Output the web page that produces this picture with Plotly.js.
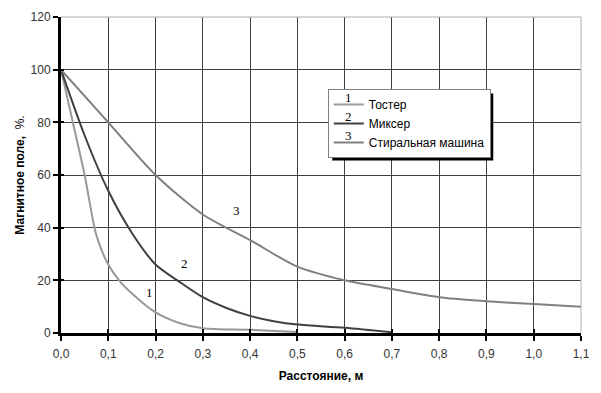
<!DOCTYPE html>
<html>
<head>
<meta charset="utf-8">
<script src="https://cdn.plot.ly/plotly-3.0.1.min.js"></script>
<style>html,body{margin:0;padding:0;background:#fff;}#chart{width:601px;height:393px;}</style>
</head>
<body>
<div id="chart"></div>
<script>
// Data
const seriesNames = ["Тостер", "Миксер", "Стиральная машина"];
const seriesNums = ["1", "2", "3"];

const toasterX = [0, 0.025, 0.05, 0.075, 0.1, 0.125, 0.15, 0.2, 0.25, 0.3, 0.4, 0.5];
const toasterY = [100, 80, 60, 37, 26, 19.5, 15, 7.8, 3.8, 1.8, 1.2, 0.4];

const mixerX = [0, 0.05, 0.1, 0.15, 0.2, 0.25, 0.3, 0.35, 0.4, 0.45, 0.5, 0.6, 0.7];
const mixerY = [100, 75, 54, 38, 26, 19.5, 13.6, 9.5, 6.5, 4.5, 3.2, 2, 0.3];

const washerX = [0, 0.1, 0.2, 0.3, 0.4, 0.5, 0.6, 0.7, 0.8, 0.9, 1.0, 1.1];
const washerY = [100, 80, 60, 45, 35.3, 25.2, 20, 16.7, 13.6, 12.1, 11, 10];

const xTickVals = [0, 0.1, 0.2, 0.3, 0.4, 0.5, 0.6, 0.7, 0.8, 0.9, 1.0, 1.1];
const yTickVals = [0, 20, 40, 60, 80, 100, 120];

const curveLabelX = [0.188, 0.262, 0.372];
const curveLabelY = [15.5, 26.5, 46.5];

const colors = ["#999999", "#404040", "#808080"];

const traces = [
  {x: toasterX, y: toasterY, name: seriesNames[0]},
  {x: mixerX, y: mixerY, name: seriesNames[1]},
  {x: washerX, y: washerY, name: seriesNames[2]}
].map((t, i) => Object.assign(t, {
  type: "scatter", mode: "lines",
  line: {color: colors[i], width: 2, shape: "spline", smoothing: 0.8},
  hoverinfo: "skip"
}));

// invisible trace to carry the overlay axes (inside ticks)
traces.push({x: [0], y: [0], xaxis: "x2", yaxis: "y2", mode: "markers",
  marker: {opacity: 0}, showlegend: false, hoverinfo: "skip"});

const font = {family: "Liberation Sans, Arial, sans-serif", size: 12, color: "#333333"};
const serif = {family: "Liberation Serif, Times New Roman, serif", size: 13, color: "#000"};

const annotations = [];
for (let i = 0; i < 3; i++) {
  annotations.push({x: curveLabelX[i], y: curveLabelY[i], xref: "x", yref: "y",
    text: seriesNums[i], showarrow: false, font: serif});
}

const layout = {
  width: 601, height: 393,
  margin: {l: 61, r: 20, t: 17, b: 60},
  paper_bgcolor: "#ffffff", plot_bgcolor: "#ffffff",
  separators: ", ",
  font: font,
  showlegend: true,
  legend: {x: 0.513, y: 0.772, xanchor: "left", yanchor: "top",
    bgcolor: "#ffffff", bordercolor: "#808080", borderwidth: 1,
    font: {family: "Liberation Sans, Arial, sans-serif", size: 12, color: "#000"},
    tracegroupgap: 0, itemwidth: 30},
  xaxis: {range: [0, 1.1], tickvals: xTickVals, tickformat: ".1f",
    showgrid: true, gridcolor: "#404040", gridwidth: 1,
    zeroline: false, showline: true, linecolor: "#000", linewidth: 3,
    ticks: "outside", ticklen: 5, tickwidth: 2, tickcolor: "#000",
    ticklabelstandoff: 3,
    tickfont: font, fixedrange: true,
    title: {text: "Расстояние, м", standoff: 12,
      font: {family: "Liberation Sans, Arial, sans-serif", size: 12, color: "#000", weight: "bold"}}},
  yaxis: {range: [0, 120], tickvals: yTickVals,
    showgrid: true, gridcolor: "#404040", gridwidth: 1,
    zeroline: false, showline: true, linecolor: "#000", linewidth: 3,
    ticks: "outside", ticklen: 5, tickwidth: 2, tickcolor: "#000",
    tickfont: font, fixedrange: true,
    title: {text: "<b>Магнитное поле,</b>  %.", standoff: 4,
      font: {family: "Liberation Sans, Arial, sans-serif", size: 12, color: "#000"}}},
  xaxis2: {overlaying: "x", range: [0, 1.1], tickvals: xTickVals, side: "bottom",
    showticklabels: false, showgrid: false, zeroline: false, showline: false,
    ticks: "inside", ticklen: 4, tickwidth: 2, tickcolor: "#000", fixedrange: true},
  yaxis2: {overlaying: "y", range: [0, 120], tickvals: yTickVals, side: "left",
    showticklabels: false, showgrid: false, zeroline: false, showline: false,
    ticks: "inside", ticklen: 3, tickwidth: 2, tickcolor: "#000", fixedrange: true},
  shapes: [
    {type: "line", xref: "paper", yref: "paper", x0: 0, x1: 1, y0: 1, y1: 1,
      line: {color: "#b0b0b0", width: 1}, layer: "above"},
    {type: "line", xref: "paper", yref: "paper", x0: 1, x1: 1, y0: 0, y1: 1,
      line: {color: "#b0b0b0", width: 1}, layer: "above"}
  ],
  annotations: annotations
};

Plotly.newPlot("chart", traces, layout, {displayModeBar: false, staticPlot: true}).then(gd => {
  // place legend shadow and the numbers above the legend line samples
  const fl = gd._fullLayout;
  const sz = fl._size;
  const root = gd.getBoundingClientRect();
  const toPX = px => (px - root.left - sz.l) / sz.w;
  const toPY = py => 1 - (py - root.top - sz.t) / sz.h;
  const bg = gd.querySelector(".legend .bg");
  const shapes = layout.shapes.slice();
  const anns = annotations.slice();
  if (bg) {
    const r = bg.getBoundingClientRect();
    shapes.push({type: "rect", xref: "paper", yref: "paper",
      x0: toPX(r.left + 4), x1: toPX(r.right + 3), y0: toPY(r.bottom + 3), y1: toPY(r.top + 4),
      fillcolor: "#000", line: {width: 0}, layer: "above"});
  }
  const lines = gd.querySelectorAll(".legend .traces .legendlines path");
  lines.forEach((p, i) => {
    const r = p.getBoundingClientRect();
    anns.push({x: toPX((r.left + r.right) / 2), y: toPY(r.top - 1),
      xref: "paper", yref: "paper", yanchor: "bottom", yshift: -3,
      text: seriesNums[i], showarrow: false, font: serif});
  });
  return Plotly.relayout(gd, {shapes: shapes, annotations: anns});
});
</script>
</body>
</html>
